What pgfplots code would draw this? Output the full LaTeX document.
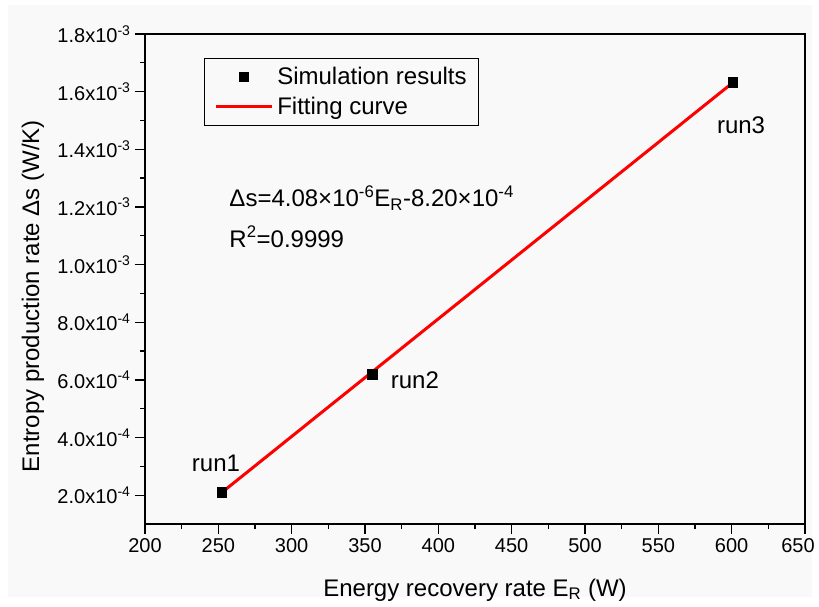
\documentclass[border=0pt]{standalone}
\usepackage{pgfplots}
\pgfplotsset{compat=1.18}
\usepackage{fontspec}
\setmainfont{Liberation Sans}
\definecolor{bg}{RGB}{249,249,249}
\pgfplotsset{
  legmark/.style={legend image code/.code={\draw[##1] plot coordinates {(28pt,0pt)};}},
  legline/.style={legend image code/.code={\draw[##1] (0pt,0pt) -- (56pt,0pt);}},
}
\begin{document}
\begin{tikzpicture}
\path[use as bounding box] (-145pt,-82pt) rectangle (674pt,524pt);
\fill[bg] (-137pt,-73pt) rectangle (667pt,519pt);
\begin{axis}[
  at={(0pt,0pt)}, anchor=south west,
  scale only axis, width=660pt, height=490pt,
  xmin=200, xmax=650, ymin=1e-4, ymax=1.8e-3,
  tick pos=left, tick align=outside,
  xtick={200,250,300,350,400,450,500,550,600,650}, minor x tick num=1,
  xticklabels={200,250,300,350,400,450,500,550,600,\hspace*{-14pt}650},
  ytick={2e-4,4e-4,6e-4,8e-4,10e-4,12e-4,14e-4,16e-4,18e-4},
  yticklabels={2.0x10\textsuperscript{-4},4.0x10\textsuperscript{-4},6.0x10\textsuperscript{-4},8.0x10\textsuperscript{-4},1.0x10\textsuperscript{-3},1.2x10\textsuperscript{-3},1.4x10\textsuperscript{-3},1.6x10\textsuperscript{-3},1.8x10\textsuperscript{-3}},
  minor y tick num=1,
  scaled y ticks=false,
  major tick length=10pt, minor tick length=5pt,
  every tick/.style={black, line width=1.3pt},
  axis line style={line width=1.5pt},
  /pgf/number format/assume math mode=true,
  tick label style={font=\fontsize{20}{22}\selectfont},
  xticklabel style={yshift=-1pt},
  yticklabel style={xshift=-1pt},
  label style={font=\fontsize{24}{28}\selectfont},
  xlabel={Energy recovery rate E\textsubscript{R} (W)},
  ylabel={Entropy production rate Δs (W/K)},
  xlabel style={at={(axis description cs:0.5,-0.147)}, anchor=base},
  ylabel style={at={(axis description cs:-0.17,0.465)}, anchor=center},
  legend cell align=left,
  legend style={at={(axis description cs:0.0894,0.951)}, anchor=north west,
    draw=black, line width=0.6pt, fill=none,
    font=\fontsize{24}{28}\selectfont,
    inner xsep=10pt, inner ysep=7pt, row sep=7pt, column sep=2pt,
    nodes={inner sep=2pt}},
]
\addplot[only marks, mark=square*, mark size=4.8pt, mark options={fill=black, draw=black, line width=0.6pt}, legmark]
  coordinates {(252.3,2.10e-4) (354.8,6.2e-4) (600.7,1.632e-3)};
\addlegendentry{Simulation results}
\addplot[red, line width=3pt, mark=none, legline]
  coordinates {(252.3,2.09e-4) (600.7,1.631e-3)};
\addlegendentry{Fitting curve}
\node[anchor=base west, font=\fontsize{24}{28}\selectfont] at (axis cs:255.2,1.2e-3)
  {Δs=4.08×10\textsuperscript{-6}E\textsubscript{R}-8.20×10\textsuperscript{-4}};
\node[anchor=base west, font=\fontsize{24}{28}\selectfont] at (axis cs:255.2,1.061e-3)
  {R\textsuperscript{2}=0.9999};
\node[font=\fontsize{24}{28}\selectfont] at (axis cs:248.4,3.12e-4) {run1};
\node[font=\fontsize{24}{28}\selectfont] at (axis cs:384,6.0e-4) {run2};
\node[font=\fontsize{24}{28}\selectfont] at (axis cs:606.4,1.484e-3) {run3};
\end{axis}
\end{tikzpicture}
\end{document}
